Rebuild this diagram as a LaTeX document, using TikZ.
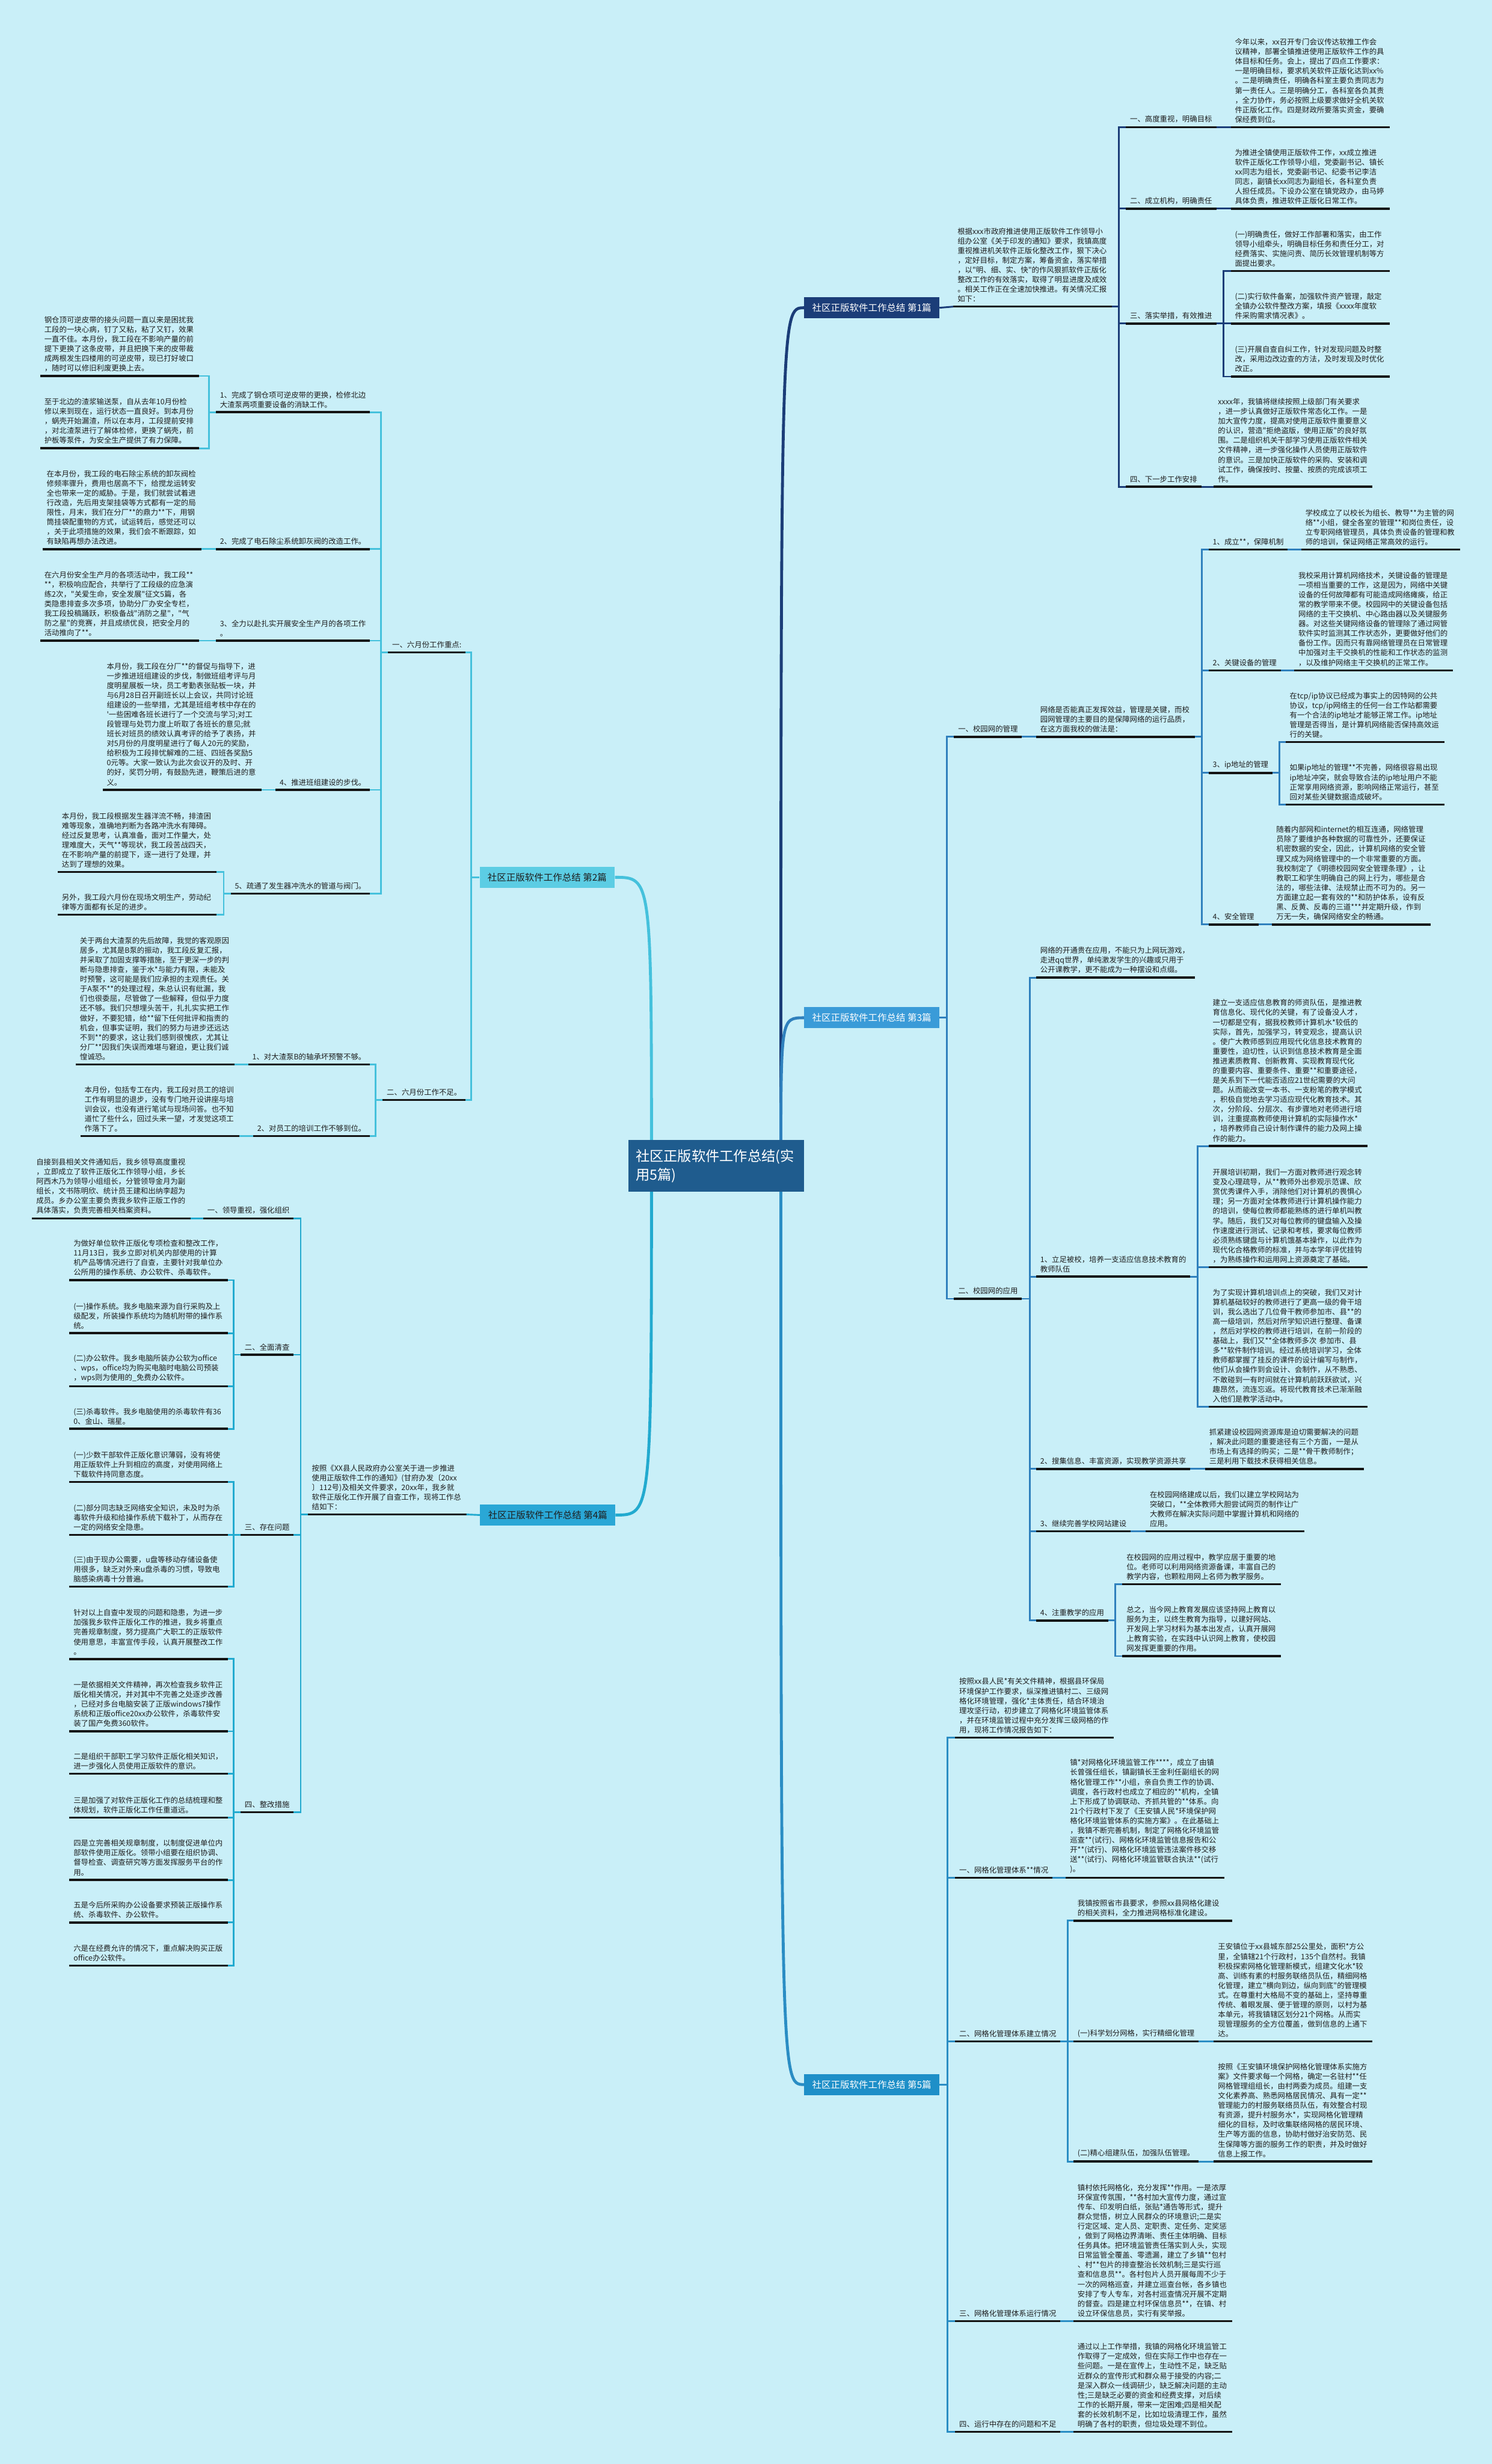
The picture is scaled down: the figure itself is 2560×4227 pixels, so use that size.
\documentclass[tikz,border=0pt]{standalone}
\usepackage{fontspec}
\usepackage{xcolor}
\usetikzlibrary{backgrounds}
\newfontfamily\zhfont{Noto Sans CJK SC}
\newcommand\txtfont{\zhfont\fontsize{12.8pt}{16.6pt}\selectfont}
\newcommand\topicfont{\zhfont\fontsize{16pt}{20pt}\selectfont}
\newcommand\hubfont{\zhfont\fontsize{24pt}{32pt}\selectfont}
\definecolor{bgc}{HTML}{C9EFF8}
\definecolor{hubc}{HTML}{1F5C8E}
\definecolor{c1}{HTML}{1B3D78}
\definecolor{c2}{HTML}{45C1DC}
\definecolor{c3}{HTML}{2F80BD}
\definecolor{c4}{HTML}{22AACF}
\definecolor{c5}{HTML}{2A8DC4}
\definecolor{f2}{HTML}{5CCDE4}
\definecolor{f3}{HTML}{3A9BD8}
\definecolor{f4}{HTML}{2AA7D6}
\definecolor{f5}{HTML}{1E8FC8}
\definecolor{ulc}{HTML}{141414}
\definecolor{txtc}{HTML}{1E1E1E}
\hyphenpenalty=10000
\exhyphenpenalty=10000
\hfuzz=20pt

\begin{document}
\begin{tikzpicture}[x=1pt, y=-1pt,
    note/.style={anchor=south west, align=left, text width=258pt, inner xsep=7pt, inner ysep=7pt, font=\txtfont, text=txtc},
    rtag/.style={anchor=south west, align=left, inner xsep=7pt, inner ysep=7pt, font=\txtfont, text=txtc},
    ltag/.style={rtag, anchor=south east},
    topic/.style={font=\topicfont, text=txtc, minimum width=232pt, minimum height=36pt, inner xsep=8pt},
    hub/.style={font=\hubfont, text=white, fill=hubc, align=left, text width=276pt, inner xsep=13pt, inner ysep=16pt},
    uline/.style={draw=ulc, line width=3.5pt},
    l1/.style={draw=c1, line width=3pt},
    l2/.style={draw=c2, line width=3pt},
    l3/.style={draw=c3, line width=3pt},
    l4/.style={draw=c4, line width=3pt},
    l5/.style={draw=c5, line width=3pt},
    curve/.style={line width=5pt}]
    \useasboundingbox (0,0) rectangle (2560,4227);
    %\draw[step=100, gray, very thin] (0,0) grid (2560,4227);

    \node[hub] (root) at (1229,2000) {社区正版软件工作总结(实\\用5篇)};
    \coordinate (hubr) at (1340,2000);
    \coordinate (hubl) at (1118,2000);

    \node[topic, fill=c1, text=white] (b1) at (1496,528) {社区正版软件工作总结 第1篇};
    \node[topic, fill=f2] (b2) at (939,1505) {社区正版软件工作总结 第2篇};
    \node[topic, fill=f3, text=white] (b3) at (1496,1746) {社区正版软件工作总结 第3篇};
    \node[topic, fill=f4] (b4) at (940,2599) {社区正版软件工作总结 第4篇};
    \node[topic, fill=f5, text=white] (b5) at (1496,3576) {社区正版软件工作总结 第5篇};

    % 第1篇
    \node[note] (b1i) at (1636,526) {根据xxx市政府推进使用正版软件工作领导小\\组办公室《关于印发的通知》要求，我镇高度\\重视推进机关软件正版化整改工作，狠下决心\\，定好目标，制定方案，筹备资金，落实举措\\，以"明、细、实、快"的作风狠抓软件正版化\\整改工作的有效落实，取得了明显进度及成效\\。相关工作正在全速加快推进。有关情况汇报\\如下：};
    \node[rtag] (b1s1) at (1932,218) {一、高度重视，明确目标};
    \node[note] (b1t1) at (2112,218) {今年以来，xx召开专门会议传达软推工作会\\议精神，部署全镇推进使用正版软件工作的具\\体目标和任务。会上，提出了四点工作要求：\\一是明确目标，要求机关软件正版化达到xx\%\\。二是明确责任，明确各科室主要负责同志为\\第一责任人。三是明确分工，各科室各负其责\\，全力协作，务必按照上级要求做好全机关软\\件正版化工作。四是财政所要落实资金，要确\\保经费到位。};
    \node[rtag] (b1s2) at (1932,358) {二、成立机构，明确责任};
    \node[note] (b1t2) at (2112,358) {为推进全镇使用正版软件工作，xx成立推进\\软件正版化工作领导小组，党委副书记、镇长\\xx同志为组长，党委副书记、纪委书记李洁\\同志，副镇长xx同志为副组长，各科室负责\\人担任成员。下设办公室在镇党政办，由马婷\\具体负责，推进软件正版化日常工作。};
    \node[rtag] (b1s3) at (1932,555) {三、落实举措，有效推进};
    \node[note] (b1t3a) at (2112,465) {(一)明确责任，做好工作部署和落实，由工作\\领导小组牵头，明确目标任务和责任分工，对\\经费落实、实施问责、简历长效管理机制等方\\面提出要求。};
    \node[note] (b1t3b) at (2112,555) {(二)实行软件备案，加强软件资产管理，敲定\\全镇办公软件整改方案，填报《xxxx年度软\\件采购需求情况表》。};
    \node[note] (b1t3c) at (2112,646) {(三)开展自查自纠工作，针对发现问题及时整\\改，采用边改边查的方法，及时发现及时优化\\改正。};
    \node[rtag] (b1s4) at (1932,835) {四、下一步工作安排};
    \node[note] (b1t4) at (2083,835) {xxxx年，我镇将继续按照上级部门有关要求\\，进一步认真做好正版软件常态化工作。一是\\加大宣传力度，提高对使用正版软件重要意义\\的认识，营造"拒绝盗版，使用正版"的良好氛\\围。二是组织机关干部学习使用正版软件相关\\文件精神，进一步强化操作人员使用正版软件\\的意识。三是加快正版软件的采购、安装和调\\试工作，确保按时、按量、按质的完成该项工\\作。};

    \foreach \n in {b1i,b1s1,b1t1,b1s2,b1t2,b1s3,b1t3a,b1t3b,b1t3c,b1s4,b1t4}
        \draw[uline] (\n.south west) -- (\n.south east);
    \draw[l1] (b1.east) -- (b1i.south west);
    \foreach \n in {b1s1,b1s2,b1s3,b1s4}
        \draw[l1] (b1i.south east) -- ++(12,0) |- (\n.south west);
    \draw[l1] (b1s1.south east) -- (b1t1.south west);
    \draw[l1] (b1s2.south east) -- (b1t2.south west);
    \foreach \n in {b1t3a,b1t3b,b1t3c}
        \draw[l1] (b1s3.south east) -- ++(12,0) |- (\n.south west);
    \draw[l1] (b1s4.south east) -- (b1t4.south west);

    % 第2篇
    \node[ltag] (b2s1) at (799,1119) {一、六月份工作重点:};
    \node[ltag] (b2s2) at (799,1887) {二、六月份工作不足。};
    \node[ltag] (b2i1) at (635,707) {1、完成了钢仓项可逆皮带的更换，检修北边\\大渣泵两项重要设备的消缺工作。};
    \node[note] (b2i1a) at (69,645) {钢仓顶可逆皮带的接头问题一直以来是困扰我\\工段的一块心病，钉了又粘，粘了又钉，效果\\一直不佳。本月份，我工段在不影响产量的前\\提下更换了这条皮带，并且把换下来的皮带裁\\成两根发生四楼用的可逆皮带，现已打好坡口\\，随时可以修旧利废更换上去。};
    \node[note] (b2i1b) at (69,769) {至于北边的渣浆输送泵，自从去年10月份检\\修以来到现在，运行状态一直良好。到本月份\\，蜗壳开始漏渣，所以在本月，工段提前安排\\，对北渣泵进行了解体检修，更换了蜗壳，前\\护板等泵件，为安全生产提供了有力保障。};
    \node[ltag] (b2i2) at (635,942) {2、完成了电石除尘系统卸灰阀的改造工作。};
    \node[note] (b2i2a) at (73,942) {在本月份，我工段的电石除尘系统的卸灰阀检\\修频率骤升，费用也居高不下，给搅龙运转安\\全也带来一定的威胁。于是，我们就尝试着进\\行改造，先后用支架挂袋等方式都有一定的局\\限性，月末，我们在分厂**的鼎力**下，用钢\\筒挂袋配重物的方式，试运转后，感觉还可以\\，关于此项措施的效果，我们会不断跟踪，如\\有缺陷再想办法改进。};
    \node[ltag] (b2i3) at (635,1099) {3、全力以赴扎实开展安全生产月的各项工作\\。};
    \node[note] (b2i3a) at (69,1099) {在六月份安全生产月的各项活动中，我工段**\\{}**，积极响应配合，共举行了工段级的应急演\\练2次，"关爱生命，安全发展"征文5篇，各\\类隐患排查多次多项，协助分厂办安全专栏，\\我工段投稿踊跃，积极备战"消防之星"，"气\\防之星"的竞赛，并且成绩优良，把安全月的\\活动推向了**。};
    \node[ltag] (b2i4) at (635,1355) {4、推进班组建设的步伐。};
    \node[note] (b2i4a) at (176,1355) {本月份，我工段在分厂**的督促与指导下，进\\一步推进班组建设的步伐，制做班组考评与月\\度明星展板一块，员工考勤表张贴板一块，并\\与6月28日召开副班长以上会议，共同讨论班\\组建设的一些举措，尤其是班组考核中存在的\\'一些困难各班长进行了一个交流与学习;对工\\段管理与处罚力度上听取了各班长的意见;就\\班长对班员的绩效认真考评的给予了表扬，并\\对5月份的月度明星进行了每人20元的奖励，\\给积极为工段排忧解难的二班、四班各奖励5\\0元等。大家一致认为此次会议开的及时、开\\的好，奖罚分明，有鼓励先进，鞭策后进的意\\义。};
    \node[ltag] (b2i5) at (635,1533) {5、疏通了发生器冲洗水的管道与阀门。};
    \node[note] (b2i5a) at (99,1496) {本月份，我工段根据发生器洋流不畅，排渣困\\难等现象，准确地判断为各路冲洗水有障碍。\\经过反复思考，认真准备，面对工作量大，处\\理难度大，天气**等现状，我工段苦战四天，\\在不影响产量的前提下，逐一进行了处理，并\\达到了理想的效果。};
    \node[note] (b2i5b) at (99,1569) {另外，我工段六月份在现场文明生产，劳动纪\\律等方面都有长足的进步。};
    \node[ltag] (b2j1) at (635,1826) {1、对大渣泵B的轴承坏预警不够。};
    \node[note] (b2j1a) at (130,1826) {关于两台大渣泵的先后故障，我觉的客观原因\\居多，尤其是B泵的振动，我工段反复汇报，\\并采取了加固支撑等措施，至于更深一步的判\\断与隐患排查，鉴于水*与能力有限，未能及\\时预警，这可能是我们应承担的主观责任。关\\于A泵不**的处理过程，朱总认识有纰漏，我\\们也很委屈，尽管做了一些解释，但似乎力度\\还不够。我们只想埋头苦干，扎扎实实把工作\\做好，不要犯错，给**留下任何批评和指责的\\机会，但事实证明，我们的努力与进步还远达\\不到**的要求，这让我们感到很愧疚，尤其让\\分厂**因我们失误而难堪与窘迫，更让我们诚\\惶诚恐。};
    \node[ltag] (b2j2) at (635,1949) {2、对员工的培训工作不够到位。};
    \node[note] (b2j2a) at (138,1949) {本月份，包括专工在内，我工段对员工的培训\\工作有明显的退步，没有专门地开设讲座与培\\训会议，也没有进行笔试与现场问答。也不知\\道忙了些什么，回过头来一望，才发觉这项工\\作落下了。};

    \foreach \n in {b2s1,b2s2,b2i1,b2i1a,b2i1b,b2i2,b2i2a,b2i3,b2i3a,b2i4,b2i4a,b2i5,b2i5a,b2i5b,b2j1,b2j1a,b2j2,b2j2a}
        \draw[uline] (\n.south west) -- (\n.south east);
    \foreach \n in {b2s1,b2s2}
        \draw[l2] (b2.west) -- ++(-14,0) |- (\n.south east);
    \foreach \n in {b2i1,b2i2,b2i3,b2i4,b2i5}
        \draw[l2] (b2s1.south west) -- ++(-12,0) |- (\n.south east);
    \foreach \n in {b2j1,b2j2}
        \draw[l2] (b2s2.south west) -- ++(-12,0) |- (\n.south east);
    \foreach \n in {b2i1a,b2i1b}
        \draw[l2] (b2i1.south west) -- ++(-12,0) |- (\n.south east);
    \draw[l2] (b2i2.south west) -- (b2i2a.south east);
    \draw[l2] (b2i3.south west) -- (b2i3a.south east);
    \draw[l2] (b2i4.south west) -- (b2i4a.south east);
    \foreach \n in {b2i5a,b2i5b}
        \draw[l2] (b2i5.south west) -- ++(-12,0) |- (\n.south east);
    \draw[l2] (b2j1.south west) -- (b2j1a.south east);
    \draw[l2] (b2j2.south west) -- (b2j2a.south east);

    % 第3篇
    \node[rtag] (b3s1) at (1637,1264) {一、校园网的管理};
    \node[note] (b3s1t) at (1778,1264) {网络是否能真正发挥效益，管理是关键，而校\\园网管理的主要目的是保障网络的运行品质，\\在这方面我校的做法是：};
    \node[rtag] (b3a1) at (2074,943) {1、成立**，保障机制};
    \node[note] (b3a1t) at (2233,943) {学校成立了以校长为组长、教导**为主管的网\\络**小组，健全各室的管理**和岗位责任，设\\立专职网络管理员，具体负责设备的管理和教\\师的培训，保证网络正常高效的运行。};
    \node[rtag] (b3a2) at (2074,1150) {2、关键设备的管理};
    \node[note] (b3a2t) at (2221,1150) {我校采用计算机网络技术，关键设备的管理是\\一项相当重要的工作，这是因为，网络中关键\\设备的任何故障都有可能造成网络瘫痪，给正\\常的教学带来不便。校园网中的关键设备包括\\网络的主干交换机、中心路由器以及关键服务\\器。对这些关键网络设备的管理除了通过网管\\软件实时监测其工作状态外，更要做好他们的\\备份工作。因而只有靠网络管理员在日常管理\\中加强对主干交换机的性能和工作状态的监测\\，以及维护网络主干交换机的正常工作。};
    \node[rtag] (b3a3) at (2074,1326) {3、ip地址的管理};
    \node[note] (b3a3a) at (2206,1273) {在tcp/ip协议已经成为事实上的因特网的公共\\协议，tcp/ip网络主的任何一台工作站都需要\\有一个合法的ip地址才能够正常工作。ip地址\\管理是否得当，是计算机网络能否保持高效运\\行的关键。};
    \node[note] (b3a3b) at (2206,1380) {如果ip地址的管理**不完善，网络很容易出现\\ip地址冲突，就会导致合法的ip地址用户不能\\正常享用网络资源，影响网络正常运行，甚至\\回对某些关键数据造成破坏。};
    \node[rtag] (b3a4) at (2074,1586) {4、安全管理};
    \node[note] (b3a4t) at (2183,1586) {随着内部网和internet的相互连通，网络管理\\员除了要维护各种数据的可靠性外，还要保证\\机密数据的安全，因此，计算机网络的安全管\\理又成为网络管理中的一个非常重要的方面。\\我校制定了《明德校园网安全管理条理》，让\\教职工和学生明确自己的网上行为，哪些是合\\法的，哪些法律、法规禁止而不可为的。另一\\方面建立起一套有效的**和防护体系，设有反\\黑、反黄、反毒的三道***并定期升级，作到\\万无一失，确保网络安全的畅通。};
    \node[rtag] (b3s2) at (1637,2228) {二、校园网的应用};
    \node[note] (b3b0) at (1778,1677) {网络的开通贵在应用，不能只为上网玩游戏，\\走进qq世界，单纯激发学生的兴趣或只用于\\公开课教学，更不能成为一种摆设和点缀。};
    \node[rtag] (b3b1) at (1778,2190) {1、立足被校，培养一支适应信息技术教育的\\教师队伍};
    \node[note] (b3b1a) at (2074,1966) {建立一支适应信息教育的师资队伍，是推进教\\育信息化、现代化的关键，有了设备没人才，\\一切都是空有，据我校教师计算机水*较低的\\实际，首先，加强学习，转变观念，提高认识\\。使广大教师感到应用现代化信息技术教育的\\重要性，迫切性，认识到信息技术教育是全面\\推进素质教育、创新教育、实现教育现代化\\的重要内容、重要条件、重要**和重要途径，\\是关系到下一代能否适应21世纪需要的大问\\题。从而能改变一本书、一支粉笔的教学模式\\，积极自觉地去学习适应现代化教育技术。其\\次，分阶段、分层次、有步骤地对老师进行培\\训，注重提高教师使用计算机的实际操作水*\\，培养教师自己设计制作课件的能力及网上操\\作的能力。};
    \node[note] (b3b1b) at (2074,2174) {开展培训初期，我们一方面对教师进行观念转\\变及心理疏导，从**教师外出参观示范课、欣\\赏优秀课件入手，消除他们对计算机的畏惧心\\理；另一方面对全体教师进行计算机操作能力\\的培训，使每位教师都能熟练的进行单机叫教\\学。随后，我们又对每位教师的键盘输入及操\\作速度进行测试、记录和考核，要求每位教师\\必须熟练键盘与计算机饿基本操作，以此作为\\现代化合格教师的标准，并与本学年评优挂钩\\，为熟练操作和运用网上资源奠定了基础。};
    \node[note] (b3b1c) at (2074,2413) {为了实现计算机培训点上的突破，我们又对计\\算机基础较好的教师进行了更高一级的骨干培\\训，我么选出了几位骨干教师参加市、县**的\\高一级培训，然后对所学知识进行整理、备课\\，然后对学校的教师进行培训，在前一阶段的\\基础上，我们又**全体教师多次~参加市、县\\多**软件制作培训。经过系统培训学习，全体\\教师都掌握了挂反的课件的设计编写与制作，\\他们从会操作到会设计、会制作，从不熟悉、\\不敢碰到一有时间就在计算机前跃跃欲试，兴\\趣昂然，流连忘返。将现代教育技术已渐渐融\\入他们是教学活动中。};
    \node[rtag] (b3b2) at (1778,2520) {2、搜集信息、丰富资源，实现教学资源共享};
    \node[note] (b3b2t) at (2068,2520) {抓紧建设校园网资源库是迫切需要解决的问题\\，解决此问题的重要途径有三个方面，一是从\\市场上有选择的购买；二是**骨干教师制作；\\三是利用下载技术获得相关信息。};
    \node[rtag] (b3b3) at (1778,2627) {3、继续完善学校网站建设};
    \node[note] (b3b3t) at (1966,2627) {在校园网络建成以后，我们以建立学校网站为\\突破口，**全体教师大胆尝试网页的制作让广\\大教师在解决实际问题中掌握计算机和网络的\\应用。};
    \node[rtag] (b3b4) at (1778,2780) {4、注重教学的应用};
    \node[note] (b3b4a) at (1926,2718) {在校园网的应用过程中，教学应居于重要的地\\位。老师可以利用网络资源备课，丰富自己的\\教学内容，也颗粒用网上名师为教学服务。};
    \node[note] (b3b4b) at (1926,2841) {总之，当今网上教育发展应该坚持网上教育以\\服务为主，以终生教育为指导，以建好网站、\\开发网上学习材料为基本出发点，认真开展网\\上教育实验，在实践中认识网上教育，使校园\\网发挥更重要的作用。};

    \foreach \n in {b3s1,b3s1t,b3a1,b3a1t,b3a2,b3a2t,b3a3,b3a3a,b3a3b,b3a4,b3a4t,b3s2,b3b0,b3b1,b3b1a,b3b1b,b3b1c,b3b2,b3b2t,b3b3,b3b3t,b3b4,b3b4a,b3b4b}
        \draw[uline] (\n.south west) -- (\n.south east);
    \foreach \n in {b3s1,b3s2}
        \draw[l3] (b3.east) -- ++(13,0) |- (\n.south west);
    \draw[l3] (b3s1.south east) -- (b3s1t.south west);
    \foreach \n in {b3a1,b3a2,b3a3,b3a4}
        \draw[l3] (b3s1t.south east) -- ++(12,0) |- (\n.south west);
    \draw[l3] (b3a1.south east) -- (b3a1t.south west);
    \draw[l3] (b3a2.south east) -- (b3a2t.south west);
    \foreach \n in {b3a3a,b3a3b}
        \draw[l3] (b3a3.south east) -- ++(12,0) |- (\n.south west);
    \draw[l3] (b3a4.south east) -- (b3a4t.south west);
    \foreach \n in {b3b0,b3b1,b3b2,b3b3,b3b4}
        \draw[l3] (b3s2.south east) -- ++(13,0) |- (\n.south west);
    \foreach \n in {b3b1a,b3b1b,b3b1c}
        \draw[l3] (b3b1.south east) -- ++(12,0) |- (\n.south west);
    \draw[l3] (b3b2.south east) -- (b3b2t.south west);
    \draw[l3] (b3b3.south east) -- (b3b3t.south west);
    \foreach \n in {b3b4a,b3b4b}
        \draw[l3] (b3b4.south east) -- ++(12,0) |- (\n.south west);

    % 第4篇
    \node[note] (b4i) at (528,2598) {按照《XX县人民政府办公室关于进一步推进\\使用正版软件工作的通知》(甘府办发〔20xx\\〕112号)及相关文件要求，20xx年，我乡就\\软件正版化工作开展了自查工作，现将工作总\\结如下：};
    \node[ltag] (b4s1) at (504,2090) {一、领导重视，强化组织};
    \node[note] (b4s1t) at (55,2090) {自接到县相关文件通知后，我乡领导高度重视\\，立即成立了软件正版化工作领导小组，乡长\\阿西木乃为领导小组组长，分管领导金月为副\\组长，文书陈明欣、统计员王建和出纳李超为\\成员。乡办公室主要负责我乡软件正版工作的\\具体落实，负责完善相关档案资料。};
    \node[ltag] (b4s2) at (504,2324) {二、全面清查};
    \node[note] (b4s2a) at (119,2196) {为做好单位软件正版化专项检查和整改工作，\\11月13日，我乡立即对机关内部使用的计算\\机产品等情况进行了自查，主要针对我单位办\\公所用的操作系统、办公软件、杀毒软件。};
    \node[note] (b4s2b) at (119,2287) {(一)操作系统。我乡电脑来源为自行采购及上\\级配发，所装操作系统均为随机附带的操作系\\统。};
    \node[note] (b4s2c) at (119,2378) {(二)办公软件。我乡电脑所装办公软为office\\、wps，office均为购买电脑时电脑公司预装\\，wps则为使用的\_免费办公软件。};
    \node[note] (b4s2d) at (119,2451) {(三)杀毒软件。我乡电脑使用的杀毒软件有36\\0、金山、瑞星。};
    \node[ltag] (b4s3) at (504,2633) {三、存在问题};
    \node[note] (b4s3a) at (119,2542) {(一)少数干部软件正版化意识薄弱，没有将使\\用正版软件上升到相应的高度，对使用网络上\\下载软件持同意态度。};
    \node[note] (b4s3b) at (119,2633) {(二)部分同志缺乏网络安全知识，未及时为杀\\毒软件升级和给操作系统下载补丁，从而存在\\一定的网络安全隐患。};
    \node[note] (b4s3c) at (119,2722) {(三)由于现办公需要，u盘等移动存储设备使\\用很多，缺乏对外来u盘杀毒的习惯，导致电\\脑感染病毒十分普遍。};
    \node[ltag] (b4s4) at (504,3109) {四、整改措施};
    \node[note] (b4s4a) at (119,2846) {针对以上自查中发现的问题和隐患，为进一步\\加强我乡软件正版化工作的推进，我乡将重点\\完善规章制度，努力提高广大职工的正版软件\\使用意思，丰富宣传手段，认真开展整改工作\\。};
    \node[note] (b4s4b) at (119,2970) {一是依据相关文件精神，再次检查我乡软件正\\版化相关情况，并对其中不完善之处逐步改善\\，已经对多台电脑安装了正版windows7操作\\系统和正版office20xx办公软件，杀毒软件安\\装了国产免费360软件。};
    \node[note] (b4s4c) at (119,3043) {二是组织干部职工学习软件正版化相关知识，\\进一步强化人员使用正版软件的意识。};
    \node[note] (b4s4d) at (119,3118) {三是加强了对软件正版化工作的总结梳理和整\\体规划，软件正版化工作任重道远。};
    \node[note] (b4s4e) at (119,3225) {四是立完善相关规章制度，以制度促进单位内\\部软件使用正版化。领带小组要在组织协调、\\督导检查、调查研究等方面发挥服务平台的作\\用。};
    \node[note] (b4s4f) at (119,3298) {五是今后所采购办公设备要求预装正版操作系\\统、杀毒软件、办公软件。};
    \node[note] (b4s4g) at (119,3372) {六是在经费允许的情况下，重点解决购买正版\\office办公软件。};

    \foreach \n in {b4i,b4s1,b4s1t,b4s2,b4s2a,b4s2b,b4s2c,b4s2d,b4s3,b4s3a,b4s3b,b4s3c,b4s4,b4s4a,b4s4b,b4s4c,b4s4d,b4s4e,b4s4f,b4s4g}
        \draw[uline] (\n.south west) -- (\n.south east);
    \draw[l4] (b4.west) -- (b4i.south east);
    \foreach \n in {b4s1,b4s2,b4s3,b4s4}
        \draw[l4] (b4i.south west) -- ++(-12,0) |- (\n.south east);
    \draw[l4] (b4s1.south west) -- (b4s1t.south east);
    \foreach \n in {b4s2a,b4s2b,b4s2c,b4s2d}
        \draw[l4] (b4s2.south west) -- ++(-12,0) |- (\n.south east);
    \foreach \n in {b4s3a,b4s3b,b4s3c}
        \draw[l4] (b4s3.south west) -- ++(-12,0) |- (\n.south east);
    \foreach \n in {b4s4a,b4s4b,b4s4c,b4s4d,b4s4e,b4s4f,b4s4g}
        \draw[l4] (b4s4.south west) -- ++(-12,0) |- (\n.south east);

    % 第5篇
    \node[note] (b5i) at (1639,2981) {按照xx县人民*有关文件精神，根据县环保局\\环境保护工作要求，纵深推进镇村二、三级网\\格化环境管理，强化*主体责任，结合环境治\\理攻坚行动，初步建立了网格化环境监管体系\\，并在环境监管过程中充分发挥三级网格的作\\用，现将工作情况报告如下：};
    \node[rtag] (b5s1) at (1639,3221) {一、网格化管理体系**情况};
    \node[note] (b5s1t) at (1829,3221) {镇*对网格化环境监管工作****，成立了由镇\\长曾强任组长，镇副镇长王金利任副组长的网\\格化管理工作**小组，亲自负责工作的协调、\\调度，各行政村也成立了相应的**机构，全镇\\上下形成了协调联动、齐抓共管的**体系。向\\21个行政村下发了《王安镇人民*环境保护网\\格化环境监管体系的实施方案》。在此基础上\\，我镇不断完善机制，制定了网格化环境监管\\巡查**(试行)、网格化环境监管信息报告和公\\开**(试行)、网格化环境监管违法案件移交移\\送**(试行)、网格化环境监管联合执法**(试行\\)。};
    \node[rtag] (b5s2) at (1639,3502) {二、网格化管理体系建立情况};
    \node[note] (b5s2a) at (1842,3295) {我镇按照省市县要求，参照xx县网格化建设\\的相关资料，全力推进网格标准化建设。};
    \node[rtag] (b5s2b) at (1842,3502) {(一)科学划分网格，实行精细化管理};
    \node[note] (b5s2bt) at (2083,3502) {王安镇位于xx县城东部25公里处，面积*方公\\里，全镇辖21个行政村，135个自然村。我镇\\积极探索网格化管理新模式，组建文化水*较\\高、训练有素的村服务联络员队伍，精细网格\\化管理，建立"横向到边，纵向到底"的管理模\\式。在尊重村大格局不变的基础上，坚持尊重\\传统、着眼发展、便于管理的原则，以村为基\\本单元，将我镇辖区划分21个网格。从而实\\现管理服务的全方位覆盖，做到信息的上通下\\达。};
    \node[rtag] (b5s2c) at (1842,3708) {(二)精心组建队伍，加强队伍管理。};
    \node[note] (b5s2ct) at (2083,3708) {按照《王安镇环境保护网格化管理体系实施方\\案》文件要求每一个网格，确定一名驻村**任\\网格管理组组长，由村两委为成员。组建一支\\文化素养高、熟悉网格居民情况、具有一定**\\管理能力的村服务联络员队伍，有效整合村现\\有资源，提升村服务水*，实现网格化管理精\\细化的目标，及时收集联络网格的居民环境、\\生产等方面的信息，协助村做好治安防范、民\\生保障等方面的服务工作的职责，并及时做好\\信息上报工作。};
    \node[rtag] (b5s3) at (1639,3982) {三、网格化管理体系运行情况};
    \node[note] (b5s3t) at (1842,3982) {镇村依托网格化，充分发挥**作用。一是浓厚\\环保宣传氛围，**各村加大宣传力度，通过宣\\传车、印发明白纸，张贴*通告等形式，提升\\群众觉悟，树立人民群众的环境意识;二是实\\行定区域、定人员、定职责、定任务、定奖惩\\，做到了网格边界清晰、责任主体明确、目标\\任务具体。把环境监管责任落实到人头，实现\\日常监管全覆盖、零遗漏，建立了乡镇**包村\\、村**包片的排查整治长效机制;三是实行巡\\查和信息员**。各村包片人员开展每周不少于\\一次的网格巡查，并建立巡查台帐，各乡镇也\\安排了专人专车，对各村巡查情况开展不定期\\的督查。四是建立村环保信息员**，在镇、村\\设立环保信息员，实行有奖举报。};
    \node[rtag] (b5s4) at (1639,4172) {四、运行中存在的问题和不足};
    \node[note] (b5s4t) at (1842,4172) {通过以上工作举措，我镇的网格化环境监管工\\作取得了一定成效，但在实际工作中也存在一\\些问题。一是在宣传上，生动性不足，缺乏贴\\近群众的宣传形式和群众易于接受的内容;二\\是深入群众一线调研少，缺乏解决问题的主动\\性;三是缺乏必要的资金和经费支撑，对后续\\工作的长期开展，带来一定困难;四是相关配\\套的长效机制不足，比如垃圾清理工作，虽然\\明确了各村的职责，但垃圾处理不到位。};

    \foreach \n in {b5i,b5s1,b5s1t,b5s2,b5s2a,b5s2b,b5s2bt,b5s2c,b5s2ct,b5s3,b5s3t,b5s4,b5s4t}
        \draw[uline] (\n.south west) -- (\n.south east);
    \foreach \n in {b5i,b5s1,b5s2,b5s3,b5s4}
        \draw[l5] (b5.east) -- ++(14,0) |- (\n.south west);
    \draw[l5] (b5s1.south east) -- (b5s1t.south west);
    \foreach \n in {b5s2a,b5s2b,b5s2c}
        \draw[l5] (b5s2.south east) -- ++(12,0) |- (\n.south west);
    \draw[l5] (b5s2b.south east) -- (b5s2bt.south west);
    \draw[l5] (b5s2c.south east) -- (b5s2ct.south west);
    \draw[l5] (b5s3.south east) -- (b5s3t.south west);
    \draw[l5] (b5s4.south east) -- (b5s4t.south west);

    \begin{scope}[on background layer]
    \fill[bgc] (0,0) rectangle (2560,4227);
    \draw[curve, c1] (hubr) .. controls (hubr |- b1.west) .. (b1.west);
    \draw[curve, c2] (hubl) .. controls (hubl |- b2.east) .. (b2.east);
    \draw[curve, c3] (hubr) .. controls (hubr |- b3.west) .. (b3.west);
    \draw[curve, c4] (hubl) .. controls (hubl |- b4.east) .. (b4.east);
    \draw[curve, c5] (hubr) .. controls (hubr |- b5.west) .. (b5.west);
    \end{scope}
\end{tikzpicture}
\end{document}
